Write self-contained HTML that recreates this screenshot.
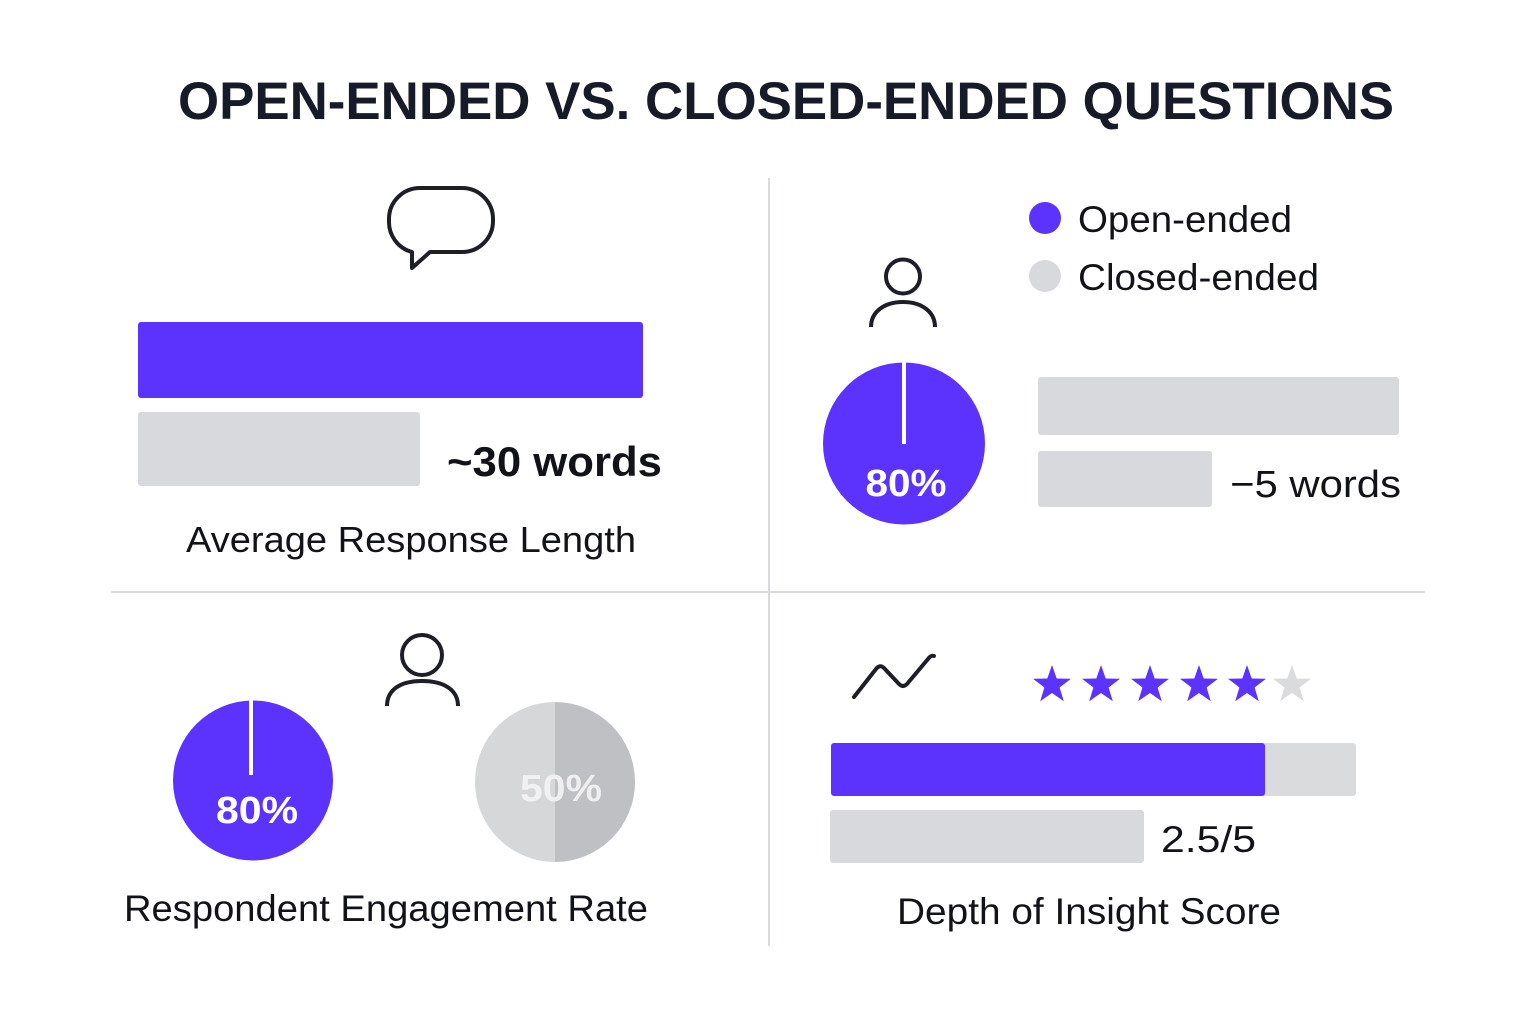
<!DOCTYPE html>
<html>
<head>
<meta charset="utf-8">
<style>
  html,body{margin:0;padding:0;background:#ffffff;}
  svg{display:block;}
  text{font-family:"Liberation Sans", Arial, sans-serif;}
</style>
</head>
<body>
<svg width="1536" height="1024" viewBox="0 0 1536 1024" xmlns="http://www.w3.org/2000/svg">
  <rect x="0" y="0" width="1536" height="1024" fill="#ffffff"/>

  <!-- Title -->
  <text x="178" y="119" font-size="53" font-weight="bold" fill="#171b27" textLength="1216" lengthAdjust="spacingAndGlyphs">OPEN-ENDED VS. CLOSED-ENDED QUESTIONS</text>

  <!-- Dividers -->
  <line x1="769" y1="178" x2="769" y2="946" stroke="#d9dadd" stroke-width="2"/>
  <line x1="111" y1="592" x2="1425" y2="592" stroke="#d9dadd" stroke-width="2"/>

  <!-- Q1: Speech bubble -->
  <path d="M412 252 L412 268 L430 252 L462 252 A31 31 0 0 0 493 221 L493 219 A31 31 0 0 0 462 188 L420 188 A31 31 0 0 0 389 219 L389 221 A31 31 0 0 0 412 252 Z" fill="none" stroke="#1e1f26" stroke-width="4" stroke-linejoin="round"/>

  <rect x="138" y="322" width="505" height="76" rx="3" fill="#5c33fc"/>
  <rect x="138" y="412" width="282" height="74" rx="3" fill="#d8d9dc"/>
  <text x="447" y="476" font-size="42" font-weight="bold" fill="#121318" textLength="215" lengthAdjust="spacingAndGlyphs">~30 words</text>
  <text x="186" y="552" font-size="36" fill="#121318" textLength="450" lengthAdjust="spacingAndGlyphs">Average Response Length</text>

  <!-- Q2: Legend -->
  <circle cx="1045" cy="218" r="16" fill="#5c33fc"/>
  <text x="1078" y="232" font-size="37" fill="#121318" textLength="214" lengthAdjust="spacingAndGlyphs">Open-ended</text>
  <circle cx="1045" cy="276" r="16" fill="#d8d9dc"/>
  <text x="1078" y="290" font-size="37" fill="#121318" textLength="241" lengthAdjust="spacingAndGlyphs">Closed-ended</text>

  <!-- Q2: Person icon -->
  <circle cx="903" cy="276.5" r="17" fill="none" stroke="#1e1f26" stroke-width="4"/>
  <path d="M871 327 C871 312 884 302 903 302 C922 302 935 312 935 327" fill="none" stroke="#1e1f26" stroke-width="4"/>

  <!-- Q2: Pie -->
  <circle cx="904" cy="443.5" r="81" fill="#5c33fc"/>
  <line x1="904" y1="362" x2="904" y2="444" stroke="#ffffff" stroke-width="4"/>
  <text x="906" y="496" font-size="38" font-weight="bold" fill="#ffffff" text-anchor="middle" textLength="81" lengthAdjust="spacingAndGlyphs">80%</text>

  <!-- Q2: Bars -->
  <rect x="1038" y="377" width="361" height="58" rx="3" fill="#d8d9dc"/>
  <rect x="1038" y="451" width="174" height="56" rx="3" fill="#d8d9dc"/>
  <text x="1230" y="497" font-size="38" fill="#121318" textLength="171" lengthAdjust="spacingAndGlyphs">−5 words</text>

  <!-- Q3: Person icon -->
  <circle cx="422" cy="655" r="20" fill="none" stroke="#1e1f26" stroke-width="4"/>
  <path d="M387 706 C387 690 400 681 422 681 C444 681 458 690 458 706" fill="none" stroke="#1e1f26" stroke-width="4"/>

  <!-- Q3: Purple pie -->
  <circle cx="253" cy="780.5" r="80" fill="#5c33fc"/>
  <line x1="251" y1="700" x2="251" y2="775" stroke="#ffffff" stroke-width="4"/>
  <text x="257" y="823" font-size="38" font-weight="bold" fill="#ffffff" text-anchor="middle" textLength="82" lengthAdjust="spacingAndGlyphs">80%</text>

  <!-- Q3: Gray pie -->
  <path d="M555 702 A80 80 0 0 0 555 862 Z" fill="#d6d7d9"/>
  <path d="M555 702 A80 80 0 0 1 555 862 Z" fill="#bfc0c3"/>
  <text x="561" y="801" font-size="38" font-weight="bold" fill="#f4f4f5" fill-opacity="0.9" text-anchor="middle" textLength="82" lengthAdjust="spacingAndGlyphs">50%</text>

  <text x="124" y="921" font-size="37" fill="#121318" textLength="524" lengthAdjust="spacingAndGlyphs">Respondent Engagement Rate</text>

  <!-- Q4: Trend icon -->
  <path d="M854 697 L876 669 Q880 664 884 668 L899 684 Q903 688 907 684 L928 659 Q931 655 934 656" fill="none" stroke="#1e1f26" stroke-width="4" stroke-linecap="round" stroke-linejoin="round"/>

  <!-- Q4: Stars -->
  <g id="stars">
    <polygon transform="translate(1052 685)" points="0,-20 4.7,-6.5 19,-6.2 7.6,2.5 11.8,16.2 0,8 -11.8,16.2 -7.6,2.5 -19,-6.2 -4.7,-6.5" fill="#5c33fc"/>
    <polygon transform="translate(1101 685)" points="0,-20 4.7,-6.5 19,-6.2 7.6,2.5 11.8,16.2 0,8 -11.8,16.2 -7.6,2.5 -19,-6.2 -4.7,-6.5" fill="#5c33fc"/>
    <polygon transform="translate(1150 685)" points="0,-20 4.7,-6.5 19,-6.2 7.6,2.5 11.8,16.2 0,8 -11.8,16.2 -7.6,2.5 -19,-6.2 -4.7,-6.5" fill="#5c33fc"/>
    <polygon transform="translate(1199 685)" points="0,-20 4.7,-6.5 19,-6.2 7.6,2.5 11.8,16.2 0,8 -11.8,16.2 -7.6,2.5 -19,-6.2 -4.7,-6.5" fill="#5c33fc"/>
    <polygon transform="translate(1247 685)" points="0,-20 4.7,-6.5 19,-6.2 7.6,2.5 11.8,16.2 0,8 -11.8,16.2 -7.6,2.5 -19,-6.2 -4.7,-6.5" fill="#5c33fc"/>
    <polygon transform="translate(1292 685)" points="0,-20 4.7,-6.5 19,-6.2 7.6,2.5 11.8,16.2 0,8 -11.8,16.2 -7.6,2.5 -19,-6.2 -4.7,-6.5" fill="#dadbdd"/>
  </g>

  <!-- Q4: Bars -->
  <rect x="831" y="743" width="525" height="53" rx="3" fill="#dadbdd"/>
  <rect x="831" y="743" width="434" height="53" rx="3" fill="#5c33fc"/>
  <rect x="830" y="810" width="314" height="53" rx="3" fill="#d8d9dc"/>
  <text x="1161" y="852" font-size="37" fill="#121318" textLength="95" lengthAdjust="spacingAndGlyphs">2.5/5</text>
  <text x="897" y="924" font-size="37" fill="#121318" textLength="384" lengthAdjust="spacingAndGlyphs">Depth of Insight Score</text>
</svg>
</body>
</html>
